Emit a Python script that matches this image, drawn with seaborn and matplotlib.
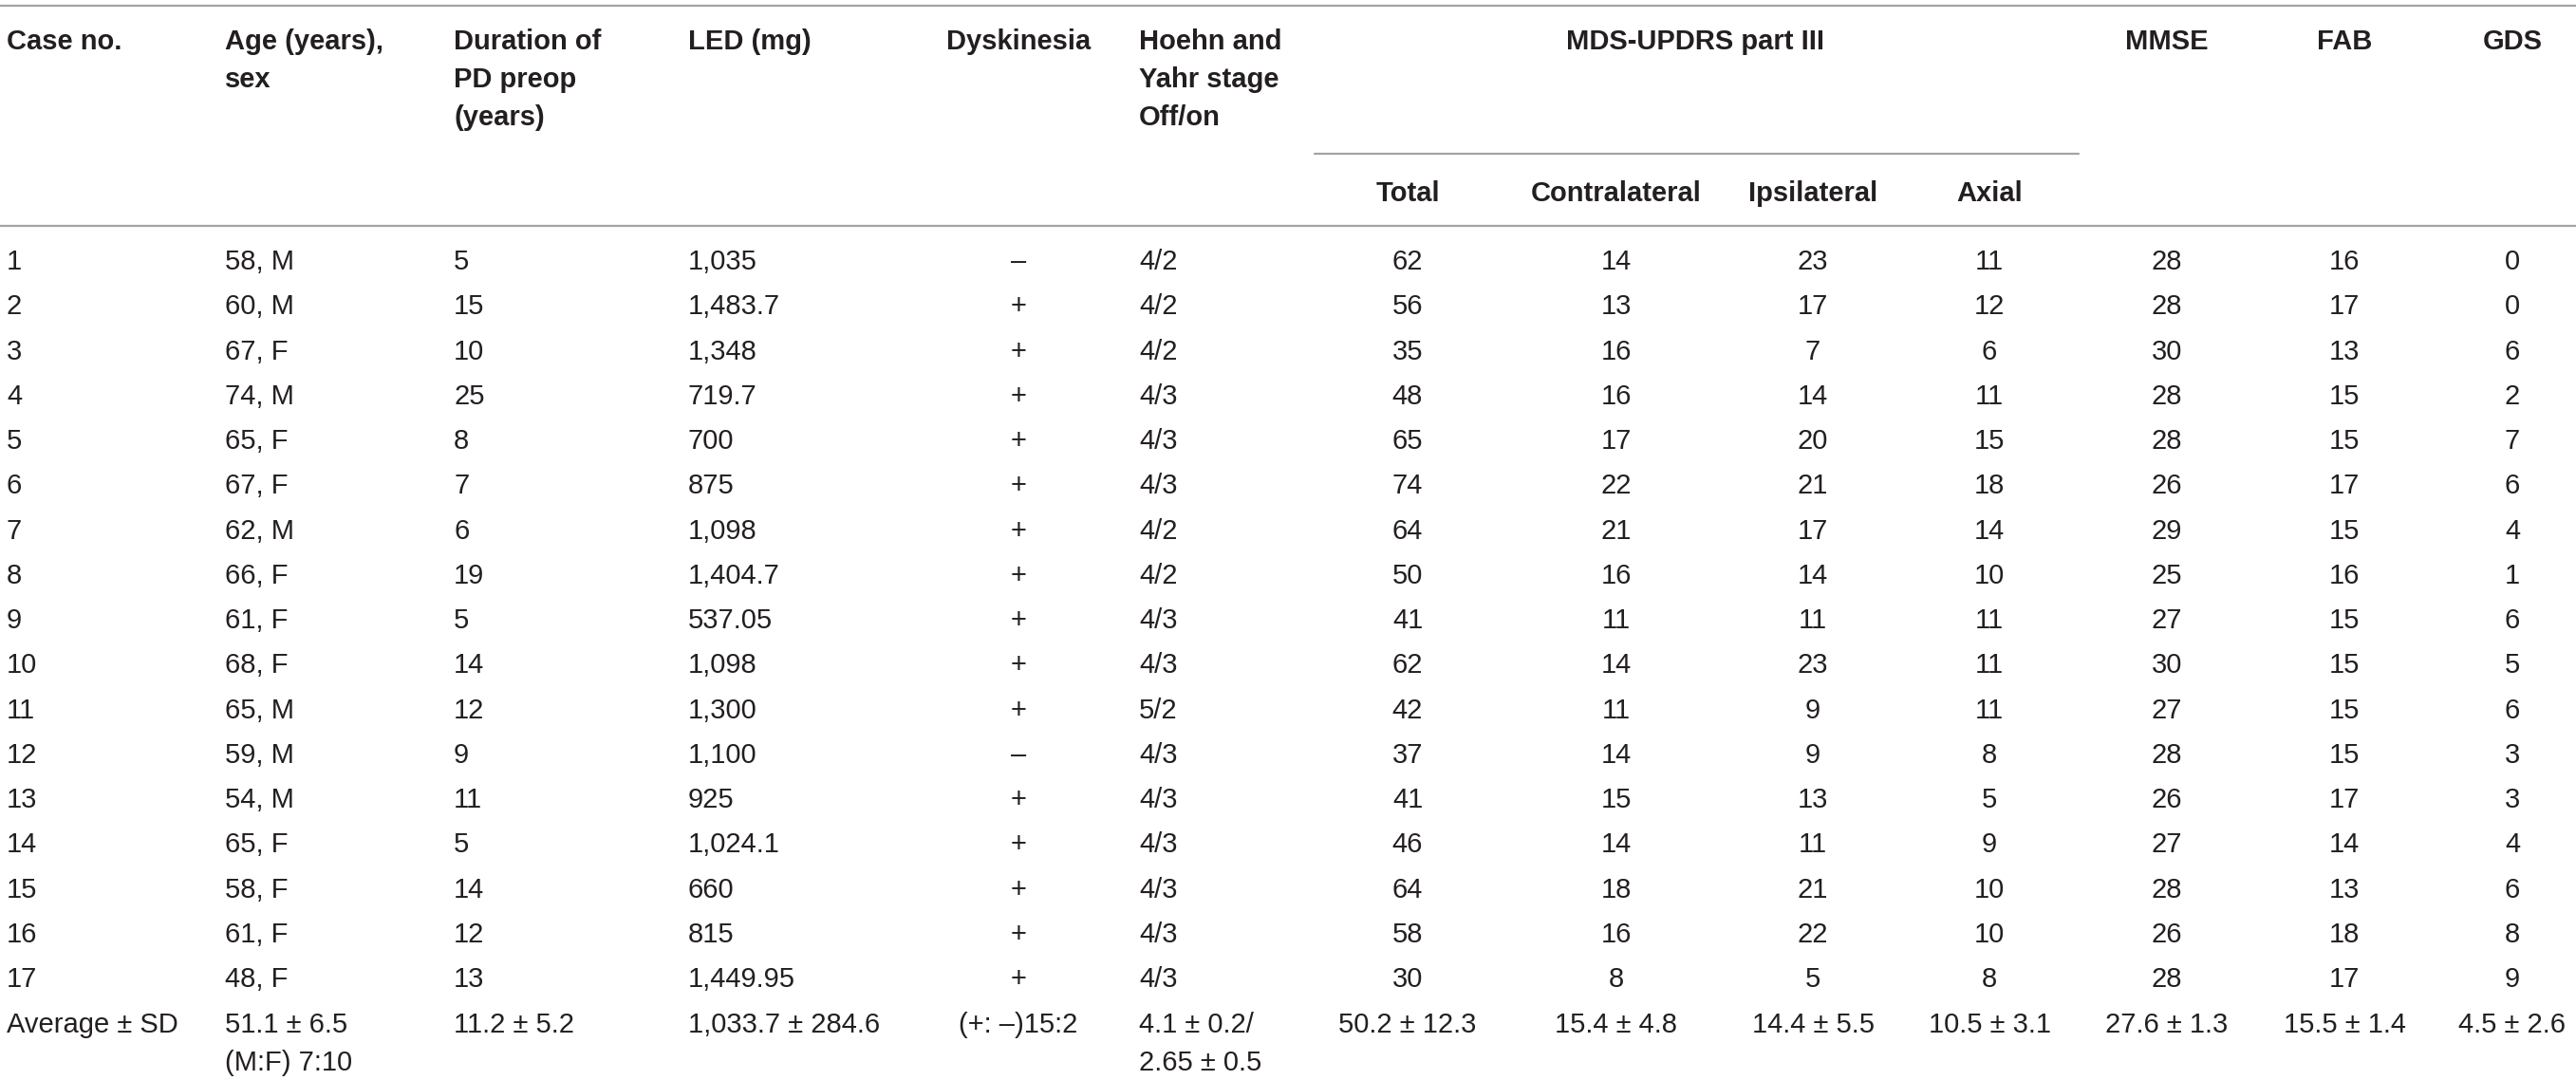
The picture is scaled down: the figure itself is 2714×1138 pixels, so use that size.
import matplotlib
matplotlib.use('Agg')
import matplotlib.pyplot as plt
import seaborn as sns
import numpy as np

# dados da tabela
case_no = [str(i) for i in range(1, 18)] + ['Average ± SD']
age_sex = ['58, M', '60, M', '67, F', '74, M', '65, F', '67, F', '62, M', '66, F', '61, F',
           '68, F', '65, M', '59, M', '54, M', '65, F', '58, F', '61, F', '48, F',
           '51.1 ± 6.5\n(M:F) 7:10']
duration = ['5', '15', '10', '25', '8', '7', '6', '19', '5', '14', '12', '9', '11', '5', '14',
            '12', '13', '11.2 ± 5.2']
led = ['1,035', '1,483.7', '1,348', '719.7', '700', '875', '1,098', '1,404.7', '537.05',
       '1,098', '1,300', '1,100', '925', '1,024.1', '660', '815', '1,449.95', '1,033.7 ± 284.6']
dyskinesia = ['–', '+', '+', '+', '+', '+', '+', '+', '+', '+', '+', '–', '+', '+', '+', '+', '+',
              '(+: –)15:2']
hoehn_yahr = ['4/2', '4/2', '4/2', '4/3', '4/3', '4/3', '4/2', '4/2', '4/3', '4/3', '5/2', '4/3',
              '4/3', '4/3', '4/3', '4/3', '4/3', '4.1 ± 0.2/\n2.65 ± 0.5']
updrs_total = ['62', '56', '35', '48', '65', '74', '64', '50', '41', '62', '42', '37', '41', '46',
               '64', '58', '30', '50.2 ± 12.3']
updrs_contra = ['14', '13', '16', '16', '17', '22', '21', '16', '11', '14', '11', '14', '15', '14',
                '18', '16', '8', '15.4 ± 4.8']
updrs_ipsi = ['23', '17', '7', '14', '20', '21', '17', '14', '11', '23', '9', '9', '13', '11',
              '21', '22', '5', '14.4 ± 5.5']
updrs_axial = ['11', '12', '6', '11', '15', '18', '14', '10', '11', '11', '11', '8', '5', '9',
               '10', '10', '8', '10.5 ± 3.1']
mmse = ['28', '28', '30', '28', '28', '26', '29', '25', '27', '30', '27', '28', '26', '27', '28',
        '26', '28', '27.6 ± 1.3']
fab = ['16', '17', '13', '15', '15', '17', '15', '16', '15', '15', '15', '15', '17', '14', '13',
       '18', '17', '15.5 ± 1.4']
gds = ['0', '0', '6', '2', '7', '6', '4', '1', '6', '5', '6', '3', '3', '4', '6', '8', '9',
       '4.5 ± 2.6']

# cabeçalhos (texto, x, alinhamento)
header_top = [
    ('Case no.', 7, 'left'),
    ('Age (years),\nsex', 237, 'left'),
    ('Duration of\nPD preop\n(years)', 478, 'left'),
    ('LED (mg)', 725, 'left'),
    ('Dyskinesia', 1073, 'center'),
    ('Hoehn and\nYahr stage\nOff/on', 1200, 'left'),
    ('MDS-UPDRS part III', 1786, 'center'),
    ('MMSE', 2283, 'center'),
    ('FAB', 2470, 'center'),
    ('GDS', 2647, 'center'),
]
header_sub = [('Total', 1483), ('Contralateral', 1703), ('Ipsilateral', 1910), ('Axial', 2096)]

columns = [
    (case_no, 7, 'left'), (age_sex, 237, 'left'), (duration, 478, 'left'),
    (led, 725, 'left'), (dyskinesia, 1073, 'center'), (hoehn_yahr, 1200, 'left'),
    (updrs_total, 1483, 'center'), (updrs_contra, 1703, 'center'),
    (updrs_ipsi, 1910, 'center'), (updrs_axial, 2096, 'center'),
    (mmse, 2283, 'center'), (fab, 2470, 'center'), (gds, 2647, 'center'),
]

sns.set_theme(style='white')
plt.rcParams['font.family'] = ['Liberation Sans', 'DejaVu Sans']

W, H = 2714, 1138
fig = plt.figure(figsize=(W / 100, H / 100), dpi=100)
ax = fig.add_axes([0, 0, 1, 1])
ax.set_xlim(0, W)
ax.set_ylim(H, 0)
ax.axis('off')

fs = 21
txt_color = '#231f20'
line_color = '#a3a3a3'
line_gap = 40
row_pitch = 47.25

def draw_cell(text, x, y, ha, bold=False):
    for k, part in enumerate(text.split('\n')):
        ax.text(x, y + k * line_gap, part, ha=ha, va='baseline', fontsize=fs,
                fontweight='bold' if bold else 'normal', color=txt_color)

# linhas horizontais
ax.plot([0, W], [6, 6], color=line_color, lw=1.6)
ax.plot([1385, 2190], [162, 162], color=line_color, lw=1.6)
ax.plot([0, W], [238, 238], color=line_color, lw=1.6)

for text, x, ha in header_top:
    draw_cell(text, x, 52, ha, bold=True)
for text, x in header_sub:
    draw_cell(text, x, 212, 'center', bold=True)

for values, x, ha in columns:
    for i, v in enumerate(values):
        y = 284 + i * row_pitch if i < 17 else 1088
        draw_cell(v, x, y, ha)

plt.savefig('out.png', dpi=100)
plt.close()
print('ok')
